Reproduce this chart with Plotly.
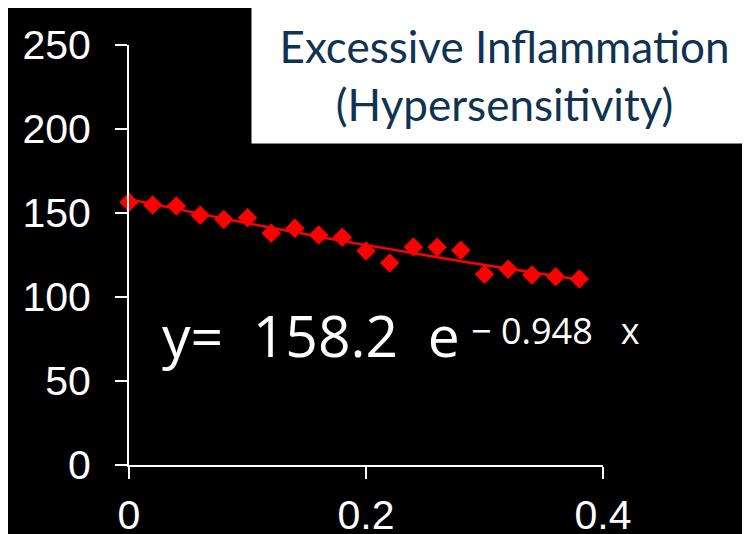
import math
import plotly.graph_objects as go

# measured points
dose = [0, 0.02, 0.04, 0.06, 0.08, 0.10, 0.12, 0.14, 0.16, 0.18,
        0.20, 0.22, 0.24, 0.26, 0.28, 0.30, 0.32, 0.34, 0.36, 0.38]
response = [156.4, 154.8, 154.2, 148.6, 146.2, 147.2, 137.9, 140.9, 136.9, 135.5,
            127.4, 120.2, 129.8, 129.6, 127.8, 113.5, 116.5, 113.1, 112.1, 110.7]

# exponential fit shown on the chart: y = A * exp(k * x)
fit_a = 158.2
fit_k = -0.948

x_ticks = [0, 0.2, 0.4]
x_tick_text = ['0', '0.2', '0.4']
y_ticks = [0, 50, 100, 150, 200, 250]

fit_y = [fit_a * math.exp(fit_k * x) for x in dose]

fig = go.Figure()
fig.add_trace(go.Scatter(
    x=dose, y=fit_y, mode='lines',
    line=dict(color='#ff0000', width=2.5),
    cliponaxis=False, showlegend=False
))
fig.add_trace(go.Scatter(
    x=dose, y=response, mode='markers',
    marker=dict(symbol='diamond', size=15, color='#ff0000', line=dict(width=0)),
    cliponaxis=False, showlegend=False
))

axis_style = dict(
    showgrid=False, zeroline=False, automargin=False,
    showline=True, linecolor='white', linewidth=2,
    ticks='outside', ticklen=12, tickwidth=2, tickcolor='white',
    tickfont=dict(family='Liberation Sans', size=41, color='white'),
)

# plot area: x 121..595, y 37..457 (page is drawn 8px in from the corner)
fig.update_layout(
    width=750, height=534,
    paper_bgcolor='black', plot_bgcolor='black',
    margin=dict(l=121, r=155, t=37, b=77, pad=0),
    xaxis=dict(range=[0, 0.4], tickvals=x_ticks, ticktext=x_tick_text,
               ticklabelstandoff=1, **axis_style),
    yaxis=dict(range=[0, 250], tickvals=y_ticks, ticklabelstandoff=16, **axis_style),
    annotations=[
        dict(
            text='Excessive Inflammation<br>(Hypersensitivity)',
            xref='paper', yref='paper', x=0.7932, y=0.9286,
            xanchor='center', yanchor='middle',
            showarrow=False, bgcolor='white', width=505, height=136,
            borderpad=0,
            font=dict(family='Lato', size=44, color='#0f3350'),
        ),
        dict(
            text='y=  158.2  e',
            xref='paper', yref='paper', x=(152 - 121) / 474, y=(457 - 327) / 420,
            xanchor='left', yanchor='middle', showarrow=False,
            font=dict(family='Open Sans', size=57, color='white'),
        ),
        dict(
            text='\u2212 0.948   x',
            xref='paper', yref='paper', x=(461 - 121) / 474, y=(457 - 322) / 420,
            xanchor='left', yanchor='middle', showarrow=False,
            font=dict(family='Open Sans', size=36, color='white'),
        ),
    ],
)

fig.write_html('out.html')
